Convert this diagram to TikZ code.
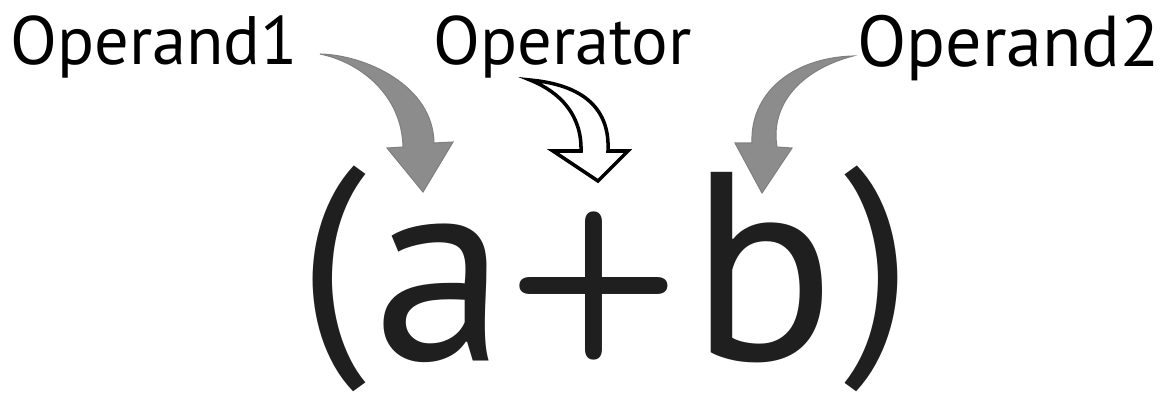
\documentclass[tikz,border=0pt]{standalone}
\usepackage{fontspec}
\setmainfont{PT Sans}
\usepackage{tikz}

\begin{document}
\begin{tikzpicture}[x=0.02cm,y=-0.02cm]
    \tikzset{LabelStyle/.style={inner sep=0pt, anchor=base west,
                font=\fontsize{39}{41}\selectfont},
             GlyphStyle/.style={inner sep=0pt, anchor=base, text=black!88,
                font=\fontsize{153}{160}\selectfont},
             ParStyle/.style={inner sep=0pt, anchor=south, text=black!88,
                font=\fontsize{138}{140}\selectfont},
             GrayArrow/.style={fill=gray!90, draw=gray, line width=0.6pt},
             WhiteArrow/.style={fill=white, draw=black, line width=2pt,
                line join=miter}}
    \useasboundingbox (0,0) rectangle (1171,396);
    % labels
    \node[LabelStyle] (Opnd1) at (10,64) {Operand1};
    \node[LabelStyle] (Optr) at (433,64) {Operator};
    \node[LabelStyle, font=\fontsize{41}{43}\selectfont] (Opnd2) at (857,66) {Operand2};
    % the expression
    \node[ParStyle] (LPar) at (332,392) {(};
    \node[GlyphStyle] (VarA) at (440,360) {a};
    \node[GlyphStyle, font=\sffamily\bfseries\fontsize{115}{120}\selectfont] (Plus) at (594,336) {+};
    \node[GlyphStyle] (VarB) at (763,360) {b};
    \node[ParStyle] (RPar) at (878,392) {)};
    % arrows
    \coordinate (TailA) at (320,54);
    \coordinate (TipA) at (423,192);
    \fill[GrayArrow] (TailA) .. controls (365,55) and (433,85) .. (434,143)
        -- (453,142) -- (TipA) -- (387,148) -- (403,147)
        .. controls (402,95) and (360,62) .. cycle;
    \coordinate (TailP) at (530,80);
    \coordinate (TipP) at (598,181);
    \draw[WhiteArrow] (TailP) .. controls (585,85) and (610,110) .. (608,151)
        -- (628,151) -- (TipP) -- (553,151) -- (581,151)
        .. controls (582,115) and (560,92) .. cycle;
    \coordinate (TailB) at (853,56);
    \coordinate (TipB) at (762,193);
    \fill[GrayArrow] (TailB) .. controls (790,58) and (750,95) .. (752,143)
        -- (735,143) -- (TipB) -- (792,148) -- (777,147)
        .. controls (770,105) and (800,70) .. cycle;
\end{tikzpicture}
\end{document}
